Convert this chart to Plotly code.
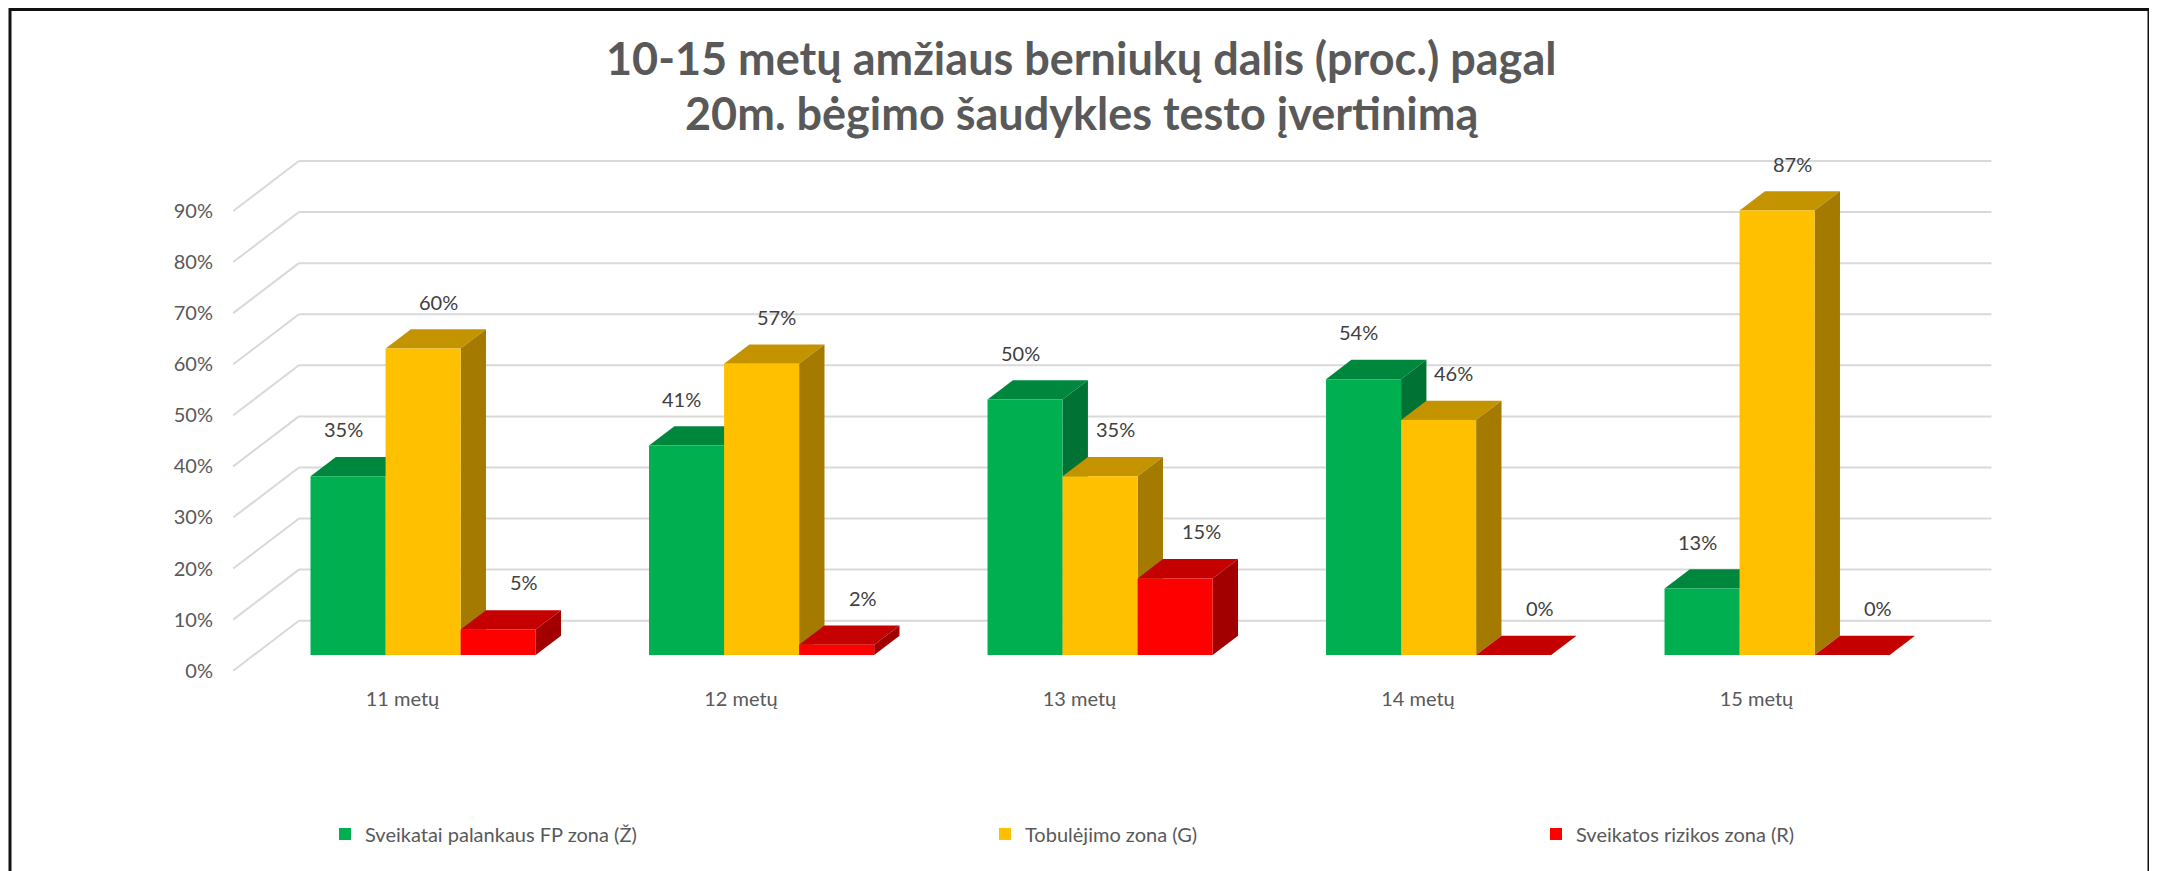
import plotly.graph_objects as go

# ---------------- data ----------------
categories = ["11 metų", "12 metų", "13 metų", "14 metų", "15 metų"]
series_names = ["Sveikatai palankaus FP zona (Ž)", "Tobulėjimo zona (G)", "Sveikatos rizikos zona (R)"]
green_vals = [35, 41, 50, 54, 13]
yellow_vals = [60, 57, 35, 46, 87]
red_vals = [5, 2, 15, 0, 0]
y_ticks = [0, 10, 20, 30, 40, 50, 60, 70, 80, 90]
title_lines = ["10-15 metų amžiaus berniukų dalis (proc.) pagal", "20m. bėgimo šaudykles testo įvertinimą"]

# ---------------- styles ----------------
front_colors = ["#00B050", "#FFC000", "#FF0000"]
top_colors = ["#00873E", "#C49300", "#C40000"]
side_colors = ["#007233", "#A47B00", "#A20000"]
FONT = "Lato"
PAGE_OFF = 8                 # default body margin of the html page
W, H = 2157 - PAGE_OFF, 871 - PAGE_OFF

# pixel calibration (screen coordinates) of the oblique 3D projection
PX_CAT = 338.5      # px per category
PX_PCT = 5.108      # px per percent
X0_PX = 423.1       # screen px of category 0 centre on the bar front plane
Y0_PX = 655.0       # screen px of 0 % on the bar front plane
ML, MR, MT, MB = 214, 50, 122, 186   # figure margins

DEPTH_DX = 65.7 / PX_CAT     # full depth shift (category units)
DEPTH_DY = 50.0 / PX_PCT     # full depth shift (percent units)
FLOOR_D = -0.314             # front edge of floor relative to bar plane
WALL_D = 0.686               # back wall relative to bar plane
BAR_D = 0.386                # bar depth
BAR_W = 0.2217
N_SER = 3

x_range = [(ML + PAGE_OFF - X0_PX) / PX_CAT, (W - MR + PAGE_OFF - X0_PX) / PX_CAT]
y_range = [(Y0_PX - (H - MB + PAGE_OFF)) / PX_PCT, (Y0_PX - (MT + PAGE_OFF)) / PX_PCT]


def sx(px):
    """screen px -> paper x"""
    return (px - PAGE_OFF - ML) / (W - ML - MR)


def sy(py):
    """screen px -> paper y"""
    return (H - MB - (py - PAGE_OFF)) / (H - MT - MB)


fig = go.Figure()
shapes = []

# ---- walls / gridlines ----
grid_col = "#D9D9D9"
x_left = -0.5
x_right = len(categories) - 0.5
for v in y_ticks:
    fx, fy = x_left + FLOOR_D * DEPTH_DX, v + FLOOR_D * DEPTH_DY
    bx, by = x_left + WALL_D * DEPTH_DX, v + WALL_D * DEPTH_DY
    shapes.append(dict(type="line", xref="x", yref="y", x0=fx, y0=fy, x1=bx, y1=by,
                       line=dict(color=grid_col, width=2), layer="below"))
    shapes.append(dict(type="line", xref="x", yref="y", x0=bx, y0=by,
                       x1=x_right + WALL_D * DEPTH_DX, y1=by,
                       line=dict(color=grid_col, width=2), layer="below"))

# ---- 3D faces (top & side) ----
all_vals = [green_vals, yellow_vals, red_vals]
bdx, bdy = BAR_D * DEPTH_DX, BAR_D * DEPTH_DY
for i in range(len(categories)):
    for s in range(N_SER):
        v = all_vals[s][i]
        xl = i + (s - (N_SER - 1) / 2) * BAR_W - BAR_W / 2
        xr = xl + BAR_W
        top = f"M{xl},{v} L{xr},{v} L{xr + bdx},{v + bdy} L{xl + bdx},{v + bdy} Z"
        shapes.append(dict(type="path", xref="x", yref="y", path=top,
                           fillcolor=top_colors[s], line=dict(width=0), layer="below"))
        if v > 0:
            side = f"M{xr},0 L{xr},{v} L{xr + bdx},{v + bdy} L{xr + bdx},{bdy} Z"
            shapes.append(dict(type="path", xref="x", yref="y", path=side,
                               fillcolor=side_colors[s], line=dict(width=0), layer="below"))

# ---- front faces (bars) ----
legend_names = ["legend", "legend2", "legend3"]
for s in range(N_SER):
    fig.add_trace(go.Bar(
        x=list(range(len(categories))), y=all_vals[s], name=series_names[s],
        marker=dict(color=front_colors[s], line=dict(width=0)),
        legend=legend_names[s], hoverinfo="skip",
    ))

# ---- data labels ----
label_xshift = [-5, 15, 26]
annotations = []
for i in range(len(categories)):
    for s in range(N_SER):
        v = all_vals[s][i]
        xc = i + (s - (N_SER - 1) / 2) * BAR_W
        annotations.append(dict(x=xc, y=v, xref="x", yref="y", text=f"{v}%",
                                showarrow=False, xshift=label_xshift[s], yshift=47,
                                font=dict(family=FONT, size=20, color="#404040")))

# ---- title ----
for line, py in zip(title_lines, [58, 113]):
    annotations.append(dict(x=sx(1081), y=sy(py), xref="paper", yref="paper",
                            xanchor="center", yanchor="middle", showarrow=False,
                            text=f"<b>{line}</b>",
                            font=dict(family=FONT, size=45, color="#595959")))

# ---- frame ----
shapes.append(dict(type="rect", xref="paper", yref="paper",
                   x0=sx(10), x1=sx(2149), y0=sy(890), y1=sy(9.5),
                   line=dict(color="#111111", width=3), fillcolor="rgba(0,0,0,0)", layer="above"))

# ---- legends (text start positions in screen px) ----
legend_text_px = [362, 1022, 1573]
leg_layout = {}
for s in range(N_SER):
    leg_layout[legend_names[s]] = dict(
        x=sx(legend_text_px[s] - 37), y=sy(834),
        xanchor="left", yanchor="middle", orientation="h",
        font=dict(family=FONT, size=20, color="#595959"),
        bgcolor="rgba(0,0,0,0)", borderwidth=0, itemwidth=30,
    )

fig.update_layout(
    width=W, height=H,
    margin=dict(l=ML, r=MR, t=MT, b=MB, autoexpand=False),
    paper_bgcolor="white", plot_bgcolor="white",
    barmode="group", bargap=1 - N_SER * BAR_W, bargroupgap=0,
    showlegend=True,
    shapes=shapes, annotations=annotations,
    xaxis=dict(range=x_range, showgrid=False, zeroline=False, showline=False,
               tickmode="array",
               tickvals=[i + FLOOR_D * DEPTH_DX for i in range(len(categories))],
               ticktext=categories, ticks="", ticklabelstandoff=0,
               tickfont=dict(family=FONT, size=20, color="#595959"), fixedrange=True),
    yaxis=dict(range=y_range, showgrid=False, zeroline=False, showline=False,
               tickmode="array",
               tickvals=[v + FLOOR_D * DEPTH_DY for v in y_ticks],
               ticktext=[f"{v}%" for v in y_ticks], ticks="", ticklabelstandoff=8,
               tickfont=dict(family=FONT, size=20, color="#595959"), fixedrange=True),
    **leg_layout,
)

fig.write_html("out.html")
